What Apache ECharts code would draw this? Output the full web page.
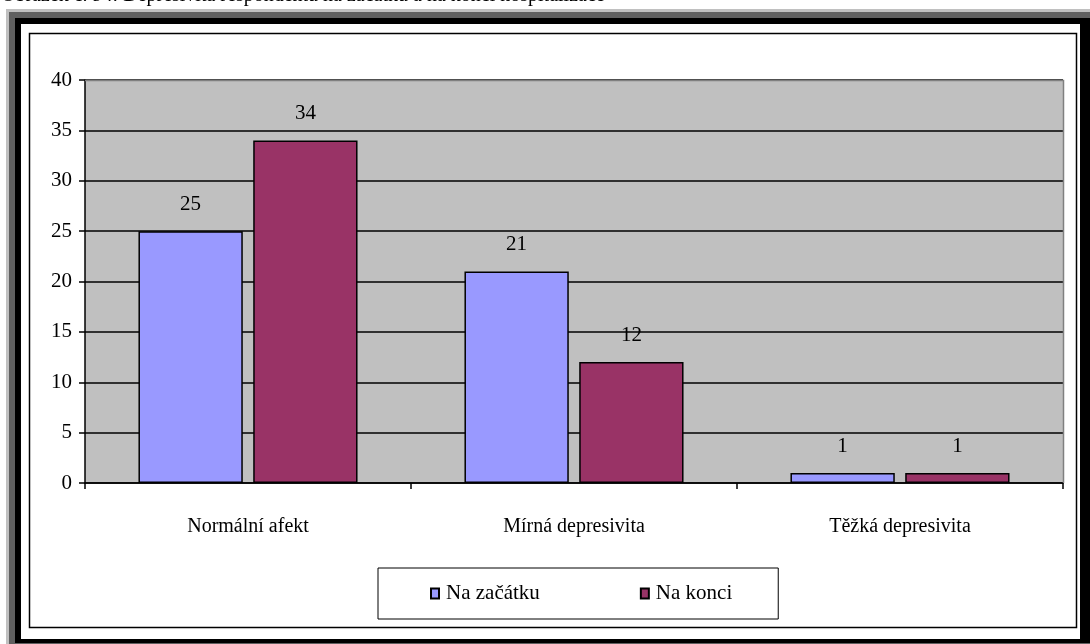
<!DOCTYPE html>
<html>
<head>
<meta charset="utf-8">
<script src="https://cdn.jsdelivr.net/npm/echarts@6/dist/echarts.min.js"></script>
<style>
  html, body { margin: 0; padding: 0; background: #ffffff; }
  #chart { width: 1090px; height: 644px; }
</style>
</head>
<body>
<div id="chart"></div>
<script>
// Depression levels of respondents at the start and end of hospitalisation
const captionText = 'Obrázek č. 94: Depresivita respondentů na začátku a na konci hospitalizace';
const categories = ['Normální afekt', 'Mírná depresivita', 'Těžká depresivita'];
const seriesNames = ['Na začátku', 'Na konci'];
const atStart = [25, 21, 1];
const atEnd = [34, 12, 1];
const yTicks = { min: 0, max: 40, interval: 5 };

const serif = '"Liberation Serif", "Times New Roman", serif';

const chart = echarts.init(document.getElementById('chart'), null, { renderer: 'canvas' });

const labelStyle = {
  show: true,
  position: 'top',
  distance: 16,
  color: '#000',
  fontFamily: serif,
  fontSize: 21
};

chart.setOption({
  animation: false,
  backgroundColor: '#ffffff',
  textStyle: { fontFamily: serif },
  graphic: [
    // framed page border with a drop-shadow look
    { type: 'rect', z: -10, silent: true, shape: { x: 6, y: 9, width: 1084, height: 635 }, style: { fill: '#c0c0c0' } },
    { type: 'rect', z: -10, silent: true, shape: { x: 9, y: 12, width: 1081, height: 632 }, style: { fill: '#606060' } },
    { type: 'rect', z: -10, silent: true, shape: { x: 15, y: 18, width: 1075, height: 625 }, style: { fill: '#000000' } },
    { type: 'rect', z: -10, silent: true, shape: { x: 21, y: 24, width: 1059, height: 615 }, style: { fill: '#ffffff' } },
    { type: 'rect', z: -10, silent: true, shape: { x: 29.5, y: 33.5, width: 1047, height: 594 }, style: { fill: '#ffffff', stroke: '#000000', lineWidth: 1.5 } },
    // plot frame top/right edges
    { type: 'polyline', z: 1, silent: true, shape: { points: [[85, 80.5], [1063.5, 80.5], [1063.5, 483]] }, style: { stroke: '#808080', lineWidth: 1.5, fill: null } },
    // caption above the frame
    { type: 'text', silent: true, left: 1, top: -14, style: { text: captionText, font: '20px ' + serif, fill: '#000' } }
  ],
  grid: { left: 85, top: 80, right: 27, bottom: 161, backgroundColor: '#c0c0c0', show: true, borderWidth: 0 },
  legend: {
    data: seriesNames,
    bottom: 25,
    left: 378,
    orient: 'horizontal',
    backgroundColor: '#ffffff',
    borderColor: '#000000',
    borderWidth: 1,
    padding: [15, 46, 15, 52],
    itemGap: 100,
    itemWidth: 8,
    itemHeight: 10,
    textStyle: { fontFamily: serif, fontSize: 21, color: '#000', padding: [0, 0, 0, 2] },
    icon: 'rect'
  },
  xAxis: {
    type: 'category',
    data: categories,
    axisLine: { show: true, lineStyle: { color: '#000', width: 1.5 } },
    axisTick: { show: true, alignWithLabel: false, length: 6, lineStyle: { color: '#000', width: 1.5 } },
    axisLabel: { color: '#000', fontFamily: serif, fontSize: 20, margin: 34 },
    splitLine: { show: false }
  },
  yAxis: {
    type: 'value',
    min: yTicks.min,
    max: yTicks.max,
    interval: yTicks.interval,
    axisLine: { show: true, lineStyle: { color: '#000', width: 1.5 } },
    axisTick: { show: true, inside: false, length: 6, lineStyle: { color: '#000', width: 1.5 } },
    axisLabel: { color: '#000', fontFamily: serif, fontSize: 21, margin: 13 },
    splitLine: { show: true, lineStyle: { color: '#000', width: 1.5 } }
  },
  series: [
    {
      name: seriesNames[0],
      type: 'bar',
      data: atStart,
      barWidth: '32%',
      barGap: '10%',
      itemStyle: { color: '#9999ff', borderColor: '#000', borderWidth: 1.5 },
      label: labelStyle
    },
    {
      name: seriesNames[1],
      type: 'bar',
      data: atEnd,
      barWidth: '32%',
      barGap: '10%',
      itemStyle: { color: '#993366', borderColor: '#000', borderWidth: 1.5 },
      label: labelStyle
    }
  ]
});
</script>
</body>
</html>
